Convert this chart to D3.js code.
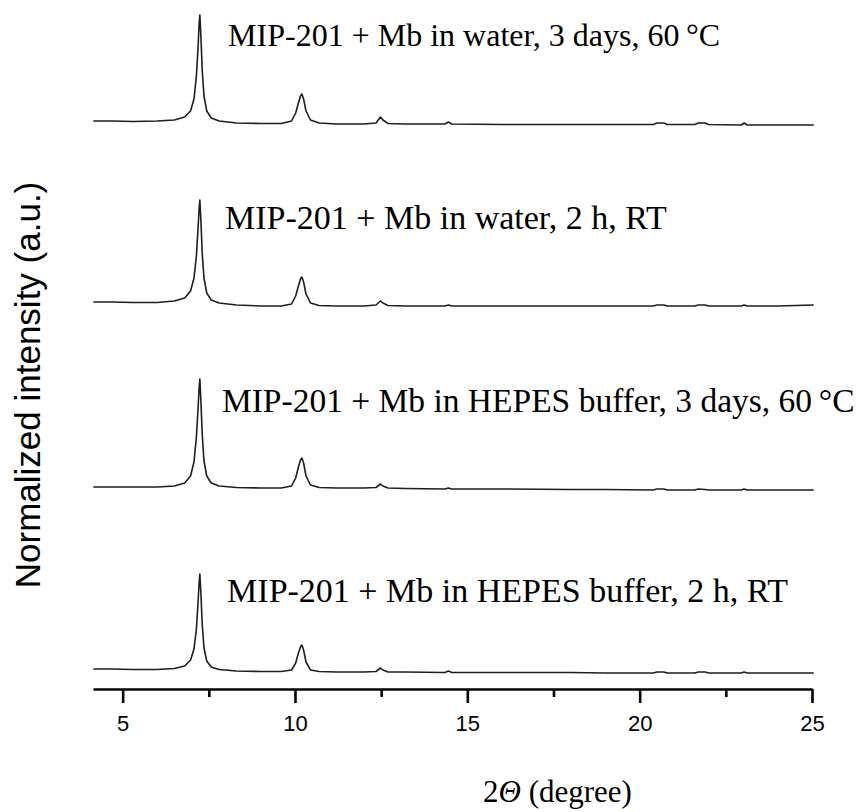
<!DOCTYPE html>
<html>
<head>
  <meta charset="utf-8">
  <script src="https://d3js.org/d3.v7.min.js"></script>
  <style>
    body { margin: 0; background: #fff; }
    .lbl { font-family: "Liberation Serif", "Times New Roman", serif; font-size: 34px; fill: #000; }
    .tick text { font-family: "Liberation Sans", Arial, sans-serif; font-size: 22px; fill: #000; }
  </style>
</head>
<body>
<div id="chart"></div>
<script>
  // 2theta grid (degree)
  const twoTheta = [4.15, 4.7, 5.3, 6.0, 6.5, 6.8, 6.97, 7.07, 7.14, 7.19, 7.22, 7.24, 7.27, 7.31, 7.36, 7.44, 7.57, 7.8,
    8.3, 9.0, 9.6, 9.9, 10.02, 10.1, 10.16, 10.2, 10.25, 10.32, 10.45, 10.7, 11.2, 12.0, 12.35, 12.48, 12.55, 12.7,
    13.2, 14.35, 14.45, 14.55, 16.0, 18.0, 19.0, 20.4, 20.5, 20.7, 20.8, 21.6, 21.7, 21.9, 22.0, 22.95, 23.03, 23.12,
    24.0, 25.05];

  // normalized intensities (a.u.), top pattern first
  const water3d = [20, 20, 19.5, 20, 21, 24, 30, 42, 65, 95, 118, 126, 105, 70, 45, 30, 23, 20,
    18, 17.5, 17.5, 20, 28, 38, 45, 47, 42, 30, 21, 18, 17, 17, 18, 24, 21, 17.5,
    17, 17, 19, 17, 16.5, 16.5, 16.5, 16.5, 18, 18, 16.5, 16.5, 18, 18, 16.5, 16, 18, 16,
    16, 16];
  const water2h = [20, 20, 19.5, 19.5, 21, 24, 31, 44, 66, 95, 114, 122, 102, 68, 44, 29, 22, 19,
    17, 16, 16, 18, 26, 36, 43, 45, 40, 28, 19, 16.5, 16, 16, 17, 21, 19, 16.5,
    16, 16, 17, 16, 16, 16, 16, 16, 17, 17, 16, 16, 17, 17, 16, 16, 17, 16,
    16, 17];
  const hepes3d = [20, 20, 20, 20, 21, 24, 31, 45, 70, 100, 120, 128, 106, 72, 46, 31, 24, 21,
    19.5, 19, 19, 21, 29, 40, 47, 49, 44, 31, 22, 19.5, 19, 19, 19.5, 23, 21, 19,
    18.5, 18, 19, 18, 18, 17.5, 17.5, 17, 18, 18, 17, 17, 18, 17.5, 17, 17, 18, 17,
    17, 17];
  const hepes2h = [20, 20, 19.5, 19.5, 20.5, 23, 29, 40, 60, 88, 107, 115, 96, 64, 41, 28, 22, 19.5,
    18, 17.5, 17.5, 19, 26, 36, 42, 44, 39, 27, 19, 17.5, 17, 17, 17.5, 21, 19, 17,
    17, 16.5, 18, 16.5, 16.5, 16.5, 16, 16, 17, 17, 16, 16, 17, 17, 16, 16, 17, 16,
    16, 16];

  const seriesNames = [
    "MIP-201 + Mb in water, 3 days, 60\u2009°C",
    "MIP-201 + Mb in water, 2 h, RT",
    "MIP-201 + Mb in HEPES buffer, 3 days, 60\u2009°C",
    "MIP-201 + Mb in HEPES buffer, 2 h, RT"
  ];
  const offsets = [548, 367, 182, 0];
  const majorTicks = [5, 10, 15, 20, 25];
  const minorTicks = [7.5, 12.5, 17.5, 22.5];

  const series = [water3d, water2h, hepes3d, hepes2h];

  const W = 857, H = 812;
  const svg = d3.select("#chart").append("svg")
    .attr("width", W)
    .attr("height", H);

  const x = d3.scaleLinear().domain([4.14, 25]).range([93, 812]);
  const y = d3.scaleLinear().domain([0, 680]).range([689, 9]);

  const line = d3.line()
    .x(d => x(d[0]))
    .y(d => y(d[1]));

  series.forEach((vals, i) => {
    const pts = twoTheta.map((t, k) => [t, vals[k] + offsets[i]]);
    svg.append("path")
      .datum(pts)
      .attr("fill", "none")
      .attr("stroke", "#1e1e1e")
      .attr("stroke-width", 1.6)
      .attr("stroke-linejoin", "round")
      .attr("d", line);
  });

  // labels, placed in data coordinates next to each pattern
  const labelPos = [[8.06, 95], [7.97, 93], [7.88, 95], [8.03, 87]];
  const labelSize = [32, 34, 33.5, 34];
  svg.selectAll("text.lbl")
    .data(seriesNames)
    .enter()
    .append("text")
    .attr("class", "lbl")
    .attr("x", (d, i) => x(labelPos[i][0]))
    .attr("y", (d, i) => y(offsets[i] + labelPos[i][1]))
    .style("font-size", (d, i) => labelSize[i] + "px")
    .text(d => d);

  // bottom axis
  const axis = svg.append("g")
    .attr("transform", `translate(0, 689)`)
    .call(d3.axisBottom(x).tickValues(majorTicks).tickSize(14).tickSizeOuter(0).tickPadding(12));
  axis.select(".domain").attr("stroke", "#000").attr("stroke-width", 2.6);
  axis.selectAll(".tick line").attr("stroke", "#000").attr("stroke-width", 2.6);

  const minor = svg.append("g")
    .attr("transform", `translate(0, 689)`)
    .call(d3.axisBottom(x).tickValues(minorTicks).tickSize(8).tickSizeOuter(0).tickFormat(""));
  minor.select(".domain").remove();
  minor.selectAll(".tick line").attr("stroke", "#000").attr("stroke-width", 2.6);

  // axis titles
  const xt = svg.append("text")
    .attr("class", "lbl")
    .attr("x", 483)
    .attr("y", 802)
    .style("font-size", "31px");
  xt.append("tspan").text("2");
  xt.append("tspan").style("font-style", "italic").text("Θ");
  xt.append("tspan").text(" (degree)");

  svg.append("text")
    .attr("transform", "translate(40, 385) rotate(-90)")
    .attr("text-anchor", "middle")
    .style("font-family", "'Liberation Sans', Arial, sans-serif")
    .style("font-size", "35px")
    .text("Normalized intensity (a.u.)");
</script>
</body>
</html>
